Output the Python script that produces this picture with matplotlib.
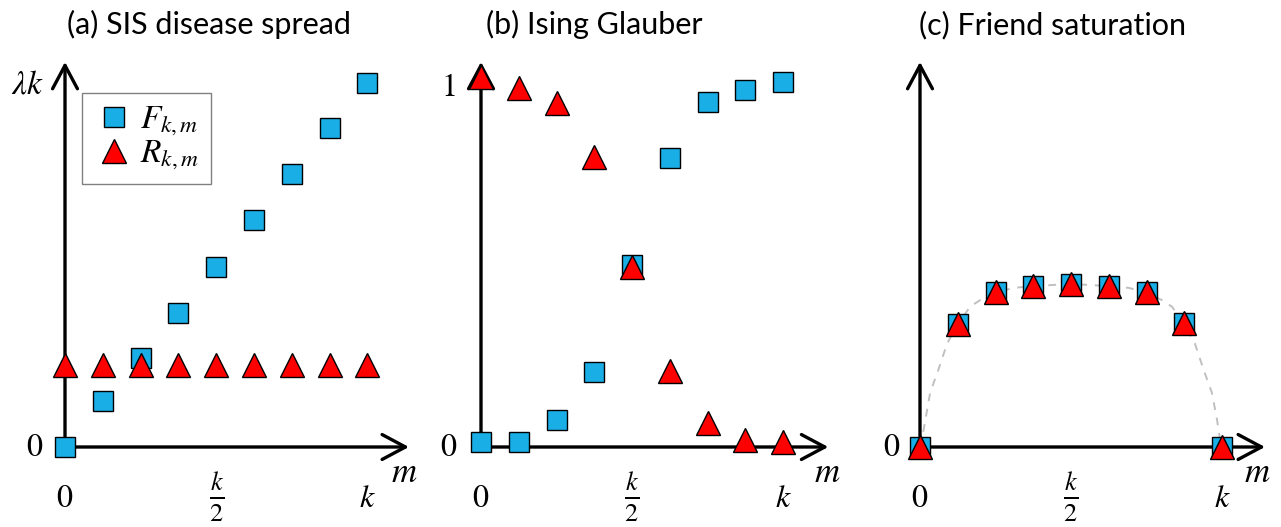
import matplotlib.pyplot as plt

plt.rcParams['mathtext.fontset'] = 'stix'
plt.rcParams['font.family'] = ['Lato', 'DejaVu Sans']

# data (k = 8, values in units of the top level)
m = [0, 1, 2, 3, 4, 5, 6, 7, 8]

F_sis = [0, 0.126, 0.244, 0.368, 0.495, 0.624, 0.75, 0.876, 1.0]
R_sis = [0.225, 0.225, 0.225, 0.225, 0.225, 0.225, 0.225, 0.225, 0.225]

F_ising = [0.014, 0.014, 0.074, 0.206, 0.5, 0.794, 0.947, 0.981, 1.004]
R_ising = [1.016, 0.986, 0.945, 0.797, 0.495, 0.209, 0.066, 0.019, 0.014]

F_friend = [0, 0.338, 0.425, 0.443, 0.448, 0.443, 0.425, 0.34, 0]
R_friend = [0, 0.338, 0.425, 0.443, 0.448, 0.443, 0.425, 0.34, 0]

# dashed guide curve in (c)
curve_m = [0, 0.05, 0.27, 0.48, 0.72, 1.0, 1.32, 1.6, 2.0, 2.46, 3.0, 4.0,
           5.0, 5.54, 6.0, 6.4, 6.68, 7.0, 7.28, 7.52, 7.73, 7.86, 7.95, 8.0]
curve_v = [0, 0.02, 0.15, 0.21, 0.285, 0.335, 0.385, 0.404, 0.423, 0.437, 0.442, 0.448,
           0.442, 0.437, 0.423, 0.404, 0.385, 0.335, 0.285, 0.21, 0.15, 0.08, 0.02, 0]

titles = ['(a) SIS disease spread', '(b) Ising Glauber', '(c) Friend saturation']

BLUE = '#1aaee6'
RED = '#ff0000'
W, H = 1281, 527
XLIM = (-1.5, 9.5)
YLIM = (-0.2, 1.2)


def place(fig, x0, y0, sx=37.8, sy=364.0):
    left = (x0 + XLIM[0] * sx) / W
    width = (XLIM[1] - XLIM[0]) * sx / W
    bottom = (H - (y0 - YLIM[0] * sy)) / H
    height = (YLIM[1] - YLIM[0]) * sy / H
    ax = fig.add_axes([left, bottom, width, height])
    ax.set_xlim(*XLIM)
    ax.set_ylim(*YLIM)
    ax.axis('off')
    return ax


def draw_axes(ax, xend, yend):
    arrow = dict(arrowstyle='->,head_length=0.6,head_width=0.32', lw=2.4,
                 color='black', mutation_scale=28, shrinkA=0, shrinkB=0)
    ax.annotate('', xy=(xend, 0), xytext=(0, 0), arrowprops=arrow, zorder=1)
    ax.annotate('', xy=(0, yend), xytext=(0, 0), arrowprops=arrow, zorder=1)


def draw_points(ax, F, R):
    ax.plot(m, F, 's', ms=14, mfc=BLUE, mec='black', mew=1.0, zorder=3, label=r'$F_{k,m}$')
    ax.plot(m, R, '^', ms=17, mfc=RED, mec='black', mew=1.0, zorder=4, label=r'$R_{k,m}$')


def xticks(ax, xm):
    kw = dict(fontsize=23, ha='center', va='center')
    ax.text(0, -0.14, r'$0$', **kw)
    ax.text(4, -0.137, r'$\frac{k}{2}$', fontsize=27, ha='center', va='center')
    ax.text(8, -0.14, r'$k$', **kw)
    ax.text(xm, -0.07, r'$m$', fontsize=25, ha='center', va='center')


fig = plt.figure(figsize=(W / 100, H / 100), dpi=100)

# (a)
sx_a = 37.8
ax = place(fig, 65, 447, sx=sx_a)
draw_axes(ax, 9.1, 1.058)
draw_points(ax, F_sis, R_sis)
xticks(ax, 8.97)
ax.text(-0.8, 0, r'$0$', fontsize=23, ha='center', va='center')
ax.text(-0.98, 0.995, r'$\lambda k$', fontsize=24, ha='center', va='center')
ax.text(3.8, 1.16, titles[0], fontsize=22, ha='center', va='center')
ax_w = (XLIM[1] - XLIM[0]) * sx_a
ax_left = 65 + XLIM[0] * sx_a
ax_h = (YLIM[1] - YLIM[0]) * 364.0
ax_top = 447 - YLIM[1] * 364.0
leg = ax.legend(loc='upper left',
                bbox_to_anchor=((82 - ax_left) / ax_w, 1 - (93 - ax_top) / ax_h),
                fontsize=24, frameon=True, fancybox=False, edgecolor='#808080',
                framealpha=1, borderpad=0.35, handletextpad=0.2, labelspacing=0.0,
                handlelength=1.2, borderaxespad=0)
leg.get_frame().set_linewidth(1.0)

# (b)
ax = place(fig, 481, 447, sx=37.75)
draw_axes(ax, 9.2, 1.058)
draw_points(ax, F_ising, R_ising)
xticks(ax, 9.17)
ax.text(-0.85, 0, r'$0$', fontsize=23, ha='center', va='center')
ax.text(-0.87, 0.99, r'$1$', fontsize=23, ha='center', va='center')
ax.text(3.0, 1.16, titles[1], fontsize=22, ha='center', va='center')

# (c)
ax = place(fig, 920, 447, sx=37.75)
draw_axes(ax, 9.14, 1.058)
ax.plot(curve_m, curve_v, ls=(0, (4, 4)), color='#c0c0c0', lw=1.4, zorder=2)
draw_points(ax, F_friend, R_friend)
xticks(ax, 8.93)
ax.text(-0.74, 0, r'$0$', fontsize=23, ha='center', va='center')
ax.text(3.5, 1.16, titles[2], fontsize=22, ha='center', va='center')

fig.savefig('out.png', dpi=100, facecolor='white')
